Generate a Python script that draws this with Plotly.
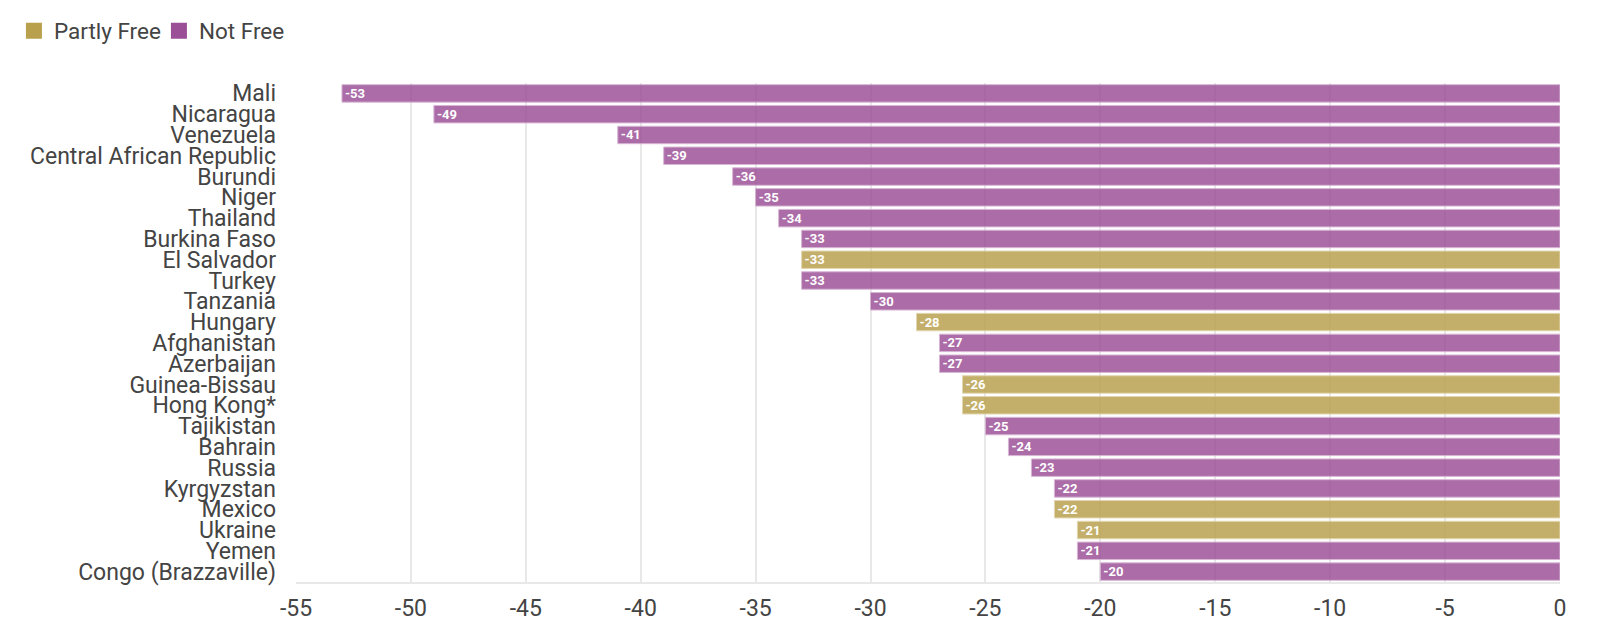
import plotly.graph_objects as go

countries = ["Mali", "Nicaragua", "Venezuela", "Central African Republic", "Burundi", "Niger",
             "Thailand", "Burkina Faso", "El Salvador", "Turkey", "Tanzania", "Hungary",
             "Afghanistan", "Azerbaijan", "Guinea-Bissau", "Hong Kong*", "Tajikistan", "Bahrain",
             "Russia", "Kyrgyzstan", "Mexico", "Ukraine", "Yemen", "Congo (Brazzaville)"]
changes = [-53, -49, -41, -39, -36, -35, -34, -33, -33, -33, -30, -28,
           -27, -27, -26, -26, -25, -24, -23, -22, -22, -21, -21, -20]
status = ["Not Free", "Not Free", "Not Free", "Not Free", "Not Free", "Not Free",
          "Not Free", "Not Free", "Partly Free", "Not Free", "Not Free", "Partly Free",
          "Not Free", "Not Free", "Partly Free", "Partly Free", "Not Free", "Not Free",
          "Not Free", "Not Free", "Partly Free", "Partly Free", "Not Free", "Not Free"]
statuses = ["Partly Free", "Not Free"]

x_ticks = [-55, -50, -45, -40, -35, -30, -25, -20, -15, -10, -5, 0]

colors = {"Partly Free": "#b9a04c", "Not Free": "#9b4f96"}
border = {"Partly Free": "#ddd0a3", "Not Free": "#d1a9ce"}

fig = go.Figure()
for s in statuses:
    ys = [c for c, st in zip(countries, status) if st == s]
    xs = [v for v, st in zip(changes, status) if st == s]
    fig.add_trace(go.Bar(
        y=ys, x=xs, name=s, orientation="h", showlegend=False, legendgroup=s,
        marker=dict(color=colors[s], opacity=0.83,
                    line=dict(color=border[s], width=1)),
        text=[str(v) for v in xs], textposition="inside", insidetextanchor="end",
        textfont=dict(color="white", size=13, family="Roboto", weight="bold"),
        textangle=0, constraintext="none",
        hoverinfo="x+y",
    ))
# legend entries (no data drawn)
for s in statuses:
    fig.add_trace(go.Scatter(
        x=[None], y=[None], mode="markers", name=s, legendgroup=s,
        marker=dict(symbol="square", size=16, color=colors[s]),
        hoverinfo="skip",
    ))

fig.update_layout(
    template="none",
    width=1602, height=619,
    barmode="relative", bargap=0.16,
    plot_bgcolor="white", paper_bgcolor="white",
    font=dict(family="Roboto", color="#444444", size=23),
    margin=dict(l=288, r=50, t=75, b=45, autoexpand=False),
    legend=dict(orientation="h", xref="container", yref="container",
                x=0.0037, y=1 - 23 / 619, xanchor="left", yanchor="middle",
                font=dict(size=22.5, color="#444444"), traceorder="normal",
                entrywidth=100, bgcolor="rgba(0,0,0,0)"),
    xaxis=dict(range=[-55, 0], tickmode="array", tickvals=x_ticks,
               ticktext=[str(t) for t in x_ticks],
               showgrid=True, gridcolor="#e8e8e8", gridwidth=1.5, zeroline=False,
               showline=True, linecolor="#e8e8e8", linewidth=2,
               tickfont=dict(size=23, color="#444444"), ticks="",
               ticklabelstandoff=4, automargin=False),
    yaxis=dict(type="category", categoryorder="array", categoryarray=countries[::-1],
               tickmode="array", tickvals=countries, ticktext=countries,
               showgrid=False, showline=False, zeroline=False,
               tickfont=dict(size=23, color="#444444"), ticks="",
               ticklabelstandoff=19, automargin=False),
)

fig.write_html("out.html")
